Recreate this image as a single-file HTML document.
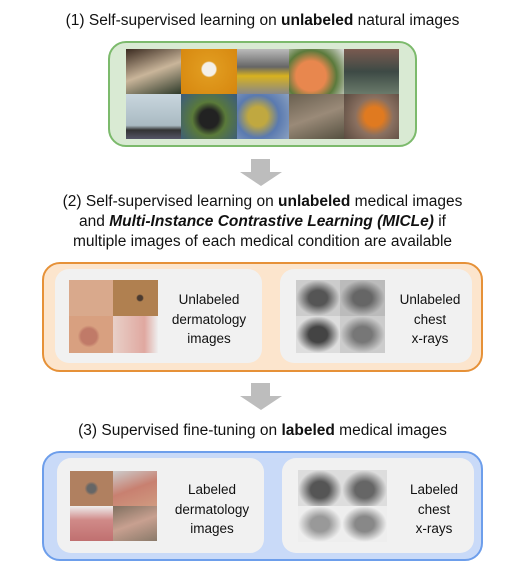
<!DOCTYPE html>
<html><head><meta charset="utf-8"><style>
body{margin:0;width:525px;height:571px;background:#fff;position:relative;font-family:"Liberation Sans",sans-serif;color:#111;overflow:hidden}
.t{position:absolute;left:0;width:525px;text-align:center;font-size:15.5px;line-height:20px;white-space:nowrap}
.box{position:absolute;border-radius:18px;box-sizing:border-box}
.in{position:absolute;background:#f1f1f1;border-radius:14px}
.lab{position:absolute;text-align:center;font-size:13.5px;line-height:19.5px;color:#111}
.g{position:absolute;display:grid}
.arrow{position:absolute;width:0;height:0}
</style></head><body>
<div class="t" style="top:11px">(1) Self-supervised learning on <b>unlabeled</b> natural images</div>
<div class="box" style="left:108px;top:41px;width:309px;height:106px;background:#d9ead3;border:2px solid #7cba6c"></div>
<div class="g" style="left:126px;top:49px;width:273px;height:90px;grid-template-columns:55px 56px 52px 55px 55px;grid-template-rows:45px 45px">
<div style="background:linear-gradient(160deg,#3a2a20,#c9b59a 50%,#2d3a2a)"></div>
<div style="background:radial-gradient(circle at 50% 45%,#f4f0e8 18%,#e09a1e 22%,#d6860e)"></div>
<div style="background:linear-gradient(180deg,#bbb,#666 40%,#d8b21f 60%,#888)"></div>
<div style="background:radial-gradient(circle at 40% 60%,#e8874e 35%,#5b7a3c 60%,#ddd)"></div>
<div style="background:linear-gradient(180deg,#7a5a50,#3d4a45 50%,#6a7a6a)"></div>
<div style="background:linear-gradient(180deg,#c9d6de,#a9bac2 70%,#333 80%,#556)"></div>
<div style="background:radial-gradient(circle at 50% 55%,#222 25%,#5a7a3a 45%,#3a5a80)"></div>
<div style="background:radial-gradient(circle at 40% 50%,#c0a840 25%,#5a7ab0 55%,#8aa0c0)"></div>
<div style="background:linear-gradient(160deg,#6a6050,#9a8a78 50%,#555040)"></div>
<div style="background:radial-gradient(circle at 55% 50%,#e07a20 25%,#8a7060 50%,#5a4a40)"></div>
</div>
<svg style="position:absolute;left:240px;top:159px" width="45" height="28"><polygon points="11,0 30,0 30,13 42,13 21,27 0,13 11,13" fill="#bdbdbd"/></svg>
<div class="t" style="top:192px">(2) Self-supervised learning on <b>unlabeled</b> medical images</div>
<div class="t" style="top:212px">and <b><i>Multi-Instance Contrastive Learning (MICLe)</i></b> if</div>
<div class="t" style="top:232px">multiple images of each medical condition are available</div>
<div class="box" style="left:42px;top:262px;width:441px;height:110px;background:#fce5cd;border:2px solid #e69138"></div>
<div class="in" style="left:55px;top:269px;width:207px;height:94px"></div>
<div class="in" style="left:280px;top:269px;width:192px;height:94px"></div>
<div class="g" style="left:69px;top:280px;width:89px;height:73px;grid-template-columns:44px 45px;grid-template-rows:36px 37px">
<div style="background:#d9a98c"></div><div style="background:radial-gradient(circle at 60% 50%,#4a3a30 8%,#b08050 12%)"></div>
<div style="background:radial-gradient(circle at 45% 55%,#c07a68 25%,#d8a080 35%)"></div><div style="background:linear-gradient(90deg,#e8d0c8,#e0a8a0 70%,#eee)"></div>
</div>
<div class="g" style="left:296px;top:280px;width:89px;height:73px;grid-template-columns:44px 45px;grid-template-rows:36px 37px;background:#000">
<div style="background:radial-gradient(ellipse at 50% 50%,#555 30%,#ccc 70%)"></div><div style="background:radial-gradient(ellipse at 50% 50%,#666 30%,#bbb 70%)"></div>
<div style="background:radial-gradient(ellipse at 50% 50%,#444 30%,#ddd 70%)"></div><div style="background:radial-gradient(ellipse at 50% 50%,#777 30%,#ccc 70%)"></div>
</div>
<div class="lab" style="left:160px;top:290px;width:98px">Unlabeled<br>dermatology<br>images</div>
<div class="lab" style="left:386px;top:290px;width:88px">Unlabeled<br>chest<br>x-rays</div>
<svg style="position:absolute;left:240px;top:383px" width="45" height="28"><polygon points="11,0 30,0 30,13 42,13 21,27 0,13 11,13" fill="#bdbdbd"/></svg>
<div class="t" style="top:421px">(3) Supervised fine-tuning on <b>labeled</b> medical images</div>
<div class="box" style="left:42px;top:451px;width:441px;height:110px;background:#c9daf8;border:2px solid #6d9eeb"></div>
<div class="in" style="left:57px;top:458px;width:207px;height:95px"></div>
<div class="in" style="left:282px;top:458px;width:192px;height:95px"></div>
<div class="g" style="left:70px;top:471px;width:87px;height:70px;grid-template-columns:43px 44px;grid-template-rows:35px 35px">
<div style="background:radial-gradient(circle at 50% 50%,#666 15%,#b08060 25%)"></div><div style="background:linear-gradient(160deg,#ccc,#c88070 50%,#d09a80)"></div>
<div style="background:linear-gradient(180deg,#eee,#d08a88 40%,#c07070)"></div><div style="background:linear-gradient(160deg,#807060,#c8a090 50%,#8a7a6a)"></div>
</div>
<div class="g" style="left:298px;top:470px;width:89px;height:72px;grid-template-columns:44px 45px;grid-template-rows:36px 36px;background:#000">
<div style="background:radial-gradient(ellipse at 50% 55%,#555 30%,#ddd 70%)"></div><div style="background:radial-gradient(ellipse at 50% 55%,#666 30%,#ddd 70%)"></div>
<div style="background:radial-gradient(ellipse at 50% 50%,#999 30%,#eee 70%)"></div><div style="background:radial-gradient(ellipse at 50% 50%,#888 30%,#eee 70%)"></div>
</div>
<div class="lab" style="left:163px;top:480px;width:98px">Labeled<br>dermatology<br>images</div>
<div class="lab" style="left:390px;top:480px;width:88px">Labeled<br>chest<br>x-rays</div>
</body></html>
